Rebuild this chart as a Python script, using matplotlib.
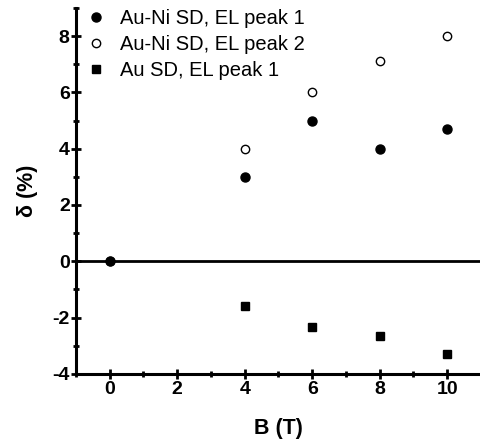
import numpy as np
import matplotlib.pyplot as plt
from matplotlib.ticker import MultipleLocator

plt.rcParams['font.family'] = ['Liberation Sans', 'DejaVu Sans']
plt.rcParams['axes.unicode_minus'] = False

# Data
b_field = [0, 4, 6, 8, 10]
auni_peak1 = [0, 3, 5, 4, 4.7]
auni_peak2 = [0, 4, 6, 7.1, 8]
au_b = [4, 6, 8, 10]
au_peak1 = [-1.6, -2.35, -2.65, -3.3]

fig = plt.figure(figsize=(4.81, 4.45), dpi=100)
ax = fig.add_axes([0.158, 0.160, 0.842, 0.822])

ax.axhline(0, color='black', lw=2, zorder=1)
ax.plot(b_field, auni_peak2, 'o', mfc='white', mec='black', mew=1, ms=6,
        label="Au-Ni SD, EL peak 2", zorder=2)
ax.plot(b_field, auni_peak1, 'o', color='black', ms=6.5, label="Au-Ni SD, EL peak 1", zorder=3)
ax.plot(au_b, au_peak1, 's', color='black', ms=6, label="Au SD, EL peak 1", zorder=2)

ax.set_xlim(-1, 11)
ax.set_ylim(-4, 9)
ax.xaxis.set_major_locator(MultipleLocator(2))
ax.xaxis.set_minor_locator(MultipleLocator(1))
ax.yaxis.set_major_locator(MultipleLocator(2))
ax.yaxis.set_minor_locator(MultipleLocator(1))

for side in ['top', 'right']:
    ax.spines[side].set_visible(False)
for side in ['left', 'bottom']:
    ax.spines[side].set_linewidth(2.2)

ax.tick_params(which='major', direction='inout', length=7, width=2, labelsize=14)
ax.tick_params(axis='y', which='major', pad=1)
ax.tick_params(axis='x', which='major', pad=2)
ax.tick_params(which='minor', direction='inout', length=4, width=2)
for lab in ax.get_xticklabels() + ax.get_yticklabels():
    lab.set_fontweight('bold')

ax.set_xlabel("B (T)", fontsize=15.5, fontweight='bold', labelpad=14)
ax.set_ylabel("δ (%)", fontsize=15.5, fontweight='bold', labelpad=10)

handles, labels = ax.get_legend_handles_labels()
order = [1, 0, 2]
ax.legend([handles[i] for i in order], [labels[i] for i in order],
          loc='upper left', frameon=False, fontsize=14.5, handlelength=1.0,
          handletextpad=0.7, borderpad=0, borderaxespad=0.0, labelspacing=0.35,
          bbox_to_anchor=(0.025, 0.997))

fig.savefig("out.png", dpi=100)
